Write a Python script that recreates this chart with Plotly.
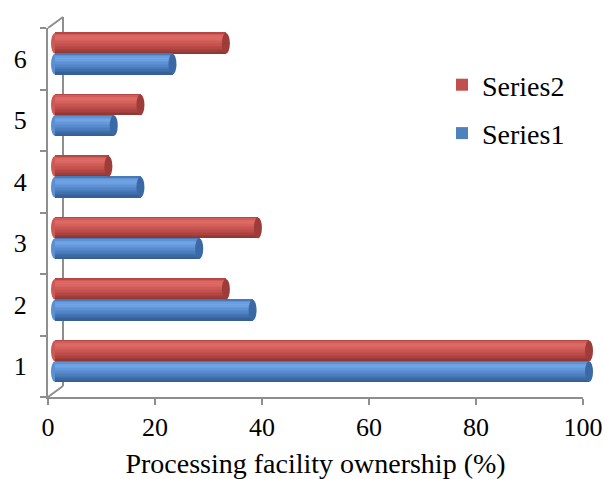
import plotly.graph_objects as go

# Processing facility ownership by category (%)
categories = [1, 2, 3, 4, 5, 6]
series1 = [100, 37, 27, 16, 11, 22]
series2 = [100, 32, 38, 10, 16, 32]
x_ticks = [0, 20, 40, 60, 80, 100]

W, H = 605, 479
ML, MR, MT, MB = 40, 8, 17, 82
PW, PH = W - ML - MR, H - MT - MB

FONT = "Liberation Serif"
AXIS_COL = "#8e8e8e"

BAR_W = 0.338      # thickness of one cylinder (category units)
CAP_W = 1.5        # end-ellipse width (value units)

# top-to-bottom shading of each cylinder
shade = {
    "Series1": ["#4779B6", "#5D92D4", "#6A9EDF", "#70A4E4", "#6CA0E1", "#6598DA",
                "#5E92D4", "#588BCD", "#5285C6", "#4C7EBF", "#4677B7", "#4170AE",
                "#3C69A3", "#366097"],
    "Series2": ["#B44845", "#D15B58", "#DB6662", "#DE6A66", "#DA6763", "#D5615D",
                "#CF5B57", "#C95652", "#C3514D", "#BC4C49", "#B44744", "#AA423F",
                "#9F3D3A", "#923734"],
}
base_col = {"Series1": "#4F81BD", "Series2": "#C0504D"}
cap_col = {"Series1": "#3B69A5", "Series2": "#9E3C39"}
left_col = {"Series1": "#5A8FD2", "Series2": "#CD5955"}


def px(x):
    return (x - ML) / PW


def py(y):
    return (MT + PH - y) / PH


fig = go.Figure()
shapes = []

# invisible trace so the front (labelled) axes get drawn
fig.add_trace(go.Scatter(x=series1, y=categories, mode="markers",
                         marker=dict(opacity=0), showlegend=False,
                         hoverinfo="skip", xaxis="x", yaxis="y"))

# Series2 sits above the category centre, Series1 below it
for name, vals, lo in [("Series2", series2, 0.0), ("Series1", series1, -BAR_W)]:
    fig.add_trace(go.Bar(
        name=name, y=categories, x=vals, orientation="h",
        offset=lo, width=BAR_W, marker=dict(color=base_col[name], line=dict(width=0)),
        xaxis="x2", yaxis="y2", legendgroup=name, showlegend=True,
        hoverinfo="x+name",
    ))
    n = len(shade[name])
    sw = BAR_W / n
    for j, col in enumerate(shade[name]):
        fig.add_trace(go.Bar(
            y=categories, x=vals, orientation="h",
            offset=lo + BAR_W - (j + 1) * sw, width=sw * 1.4,
            marker=dict(color=col, line=dict(width=0)),
            xaxis="x2", yaxis="y2", legendgroup=name, showlegend=False,
            hoverinfo="skip",
        ))
    for c, v in zip(categories, vals):
        # rounded start of the cylinder
        shapes.append(dict(type="circle", xref="x2", yref="y2", layer="below",
                           x0=-CAP_W / 2, x1=CAP_W / 2, y0=c + lo, y1=c + lo + BAR_W,
                           fillcolor=left_col[name], line=dict(width=0)))
        # end face of the cylinder
        shapes.append(dict(type="circle", xref="x2", yref="y2", layer="above",
                           x0=v - CAP_W / 2, x1=v + CAP_W / 2, y0=c + lo, y1=c + lo + BAR_W,
                           fillcolor=cap_col[name], line=dict(width=0)))

# 3-D frame: back wall and the two connecting diagonals
wall = dict(color=AXIS_COL, width=2)
shapes += [
    dict(type="line", xref="paper", yref="paper", x0=px(63), x1=px(63), y0=py(17), y1=py(386), line=wall, layer="below"),
    dict(type="line", xref="paper", yref="paper", x0=px(48), x1=px(63), y0=py(28), y1=py(17), line=wall, layer="below"),
    dict(type="line", xref="paper", yref="paper", x0=px(48), x1=px(63), y0=py(397), y1=py(386), line=wall, layer="below"),
]

tick_font = dict(family=FONT, size=26, color="black")

# value -> pixel scale of the cylinders (value 0 at x=55, value 100 at x=589)
X0_PX, X100_PX = 55, 589
SCALE = (X100_PX - X0_PX) / 100

fig.update_layout(
    width=W, height=H,
    margin=dict(l=ML, r=MR, t=MT, b=MB, pad=0, autoexpand=False),
    paper_bgcolor="white", plot_bgcolor="rgba(0,0,0,0)",
    barmode="overlay", bargap=0,
    font=tick_font,
    showlegend=True,
    legend=dict(x=px(442), y=py(60), xanchor="left", yanchor="top",
                font=dict(family=FONT, size=28, color="black"),
                tracegroupgap=9, bgcolor="rgba(0,0,0,0)"),
    xaxis=dict(domain=[px(48), px(583)], range=[0, 100], tickvals=x_ticks,
               showgrid=False, zeroline=False, showline=True, linecolor=AXIS_COL, linewidth=2,
               ticks="outside", ticklen=6, tickcolor=AXIS_COL, tickwidth=2,
               tickfont=tick_font, anchor="y", automargin=False,
               title=dict(text="Processing facility ownership (%)", standoff=12,
                          font=dict(family=FONT, size=28, color="black"))),
    yaxis=dict(domain=[0, (397 - 28) / PH], range=[0.5, 6.5], tickvals=categories,
               showgrid=False, zeroline=False, showline=True, linecolor=AXIS_COL, linewidth=2,
               ticks="", tickfont=tick_font, anchor="x", ticklabelstandoff=14, automargin=False,
               minor=dict(tickvals=[0.5, 1.5, 2.5, 3.5, 4.5, 5.5, 6.5], ticks="outside",
                          ticklen=6, tickcolor=AXIS_COL, tickwidth=2)),
    xaxis2=dict(domain=[px(X0_PX - SCALE), px(X100_PX + SCALE)], range=[-1, 101],
                visible=False, anchor="y2"),
    yaxis2=dict(domain=[(397 - 392) / PH, (397 - 23) / PH], range=[0.5, 6.5],
                visible=False, anchor="x2"),
    shapes=shapes,
)

fig.write_html("out.html")
